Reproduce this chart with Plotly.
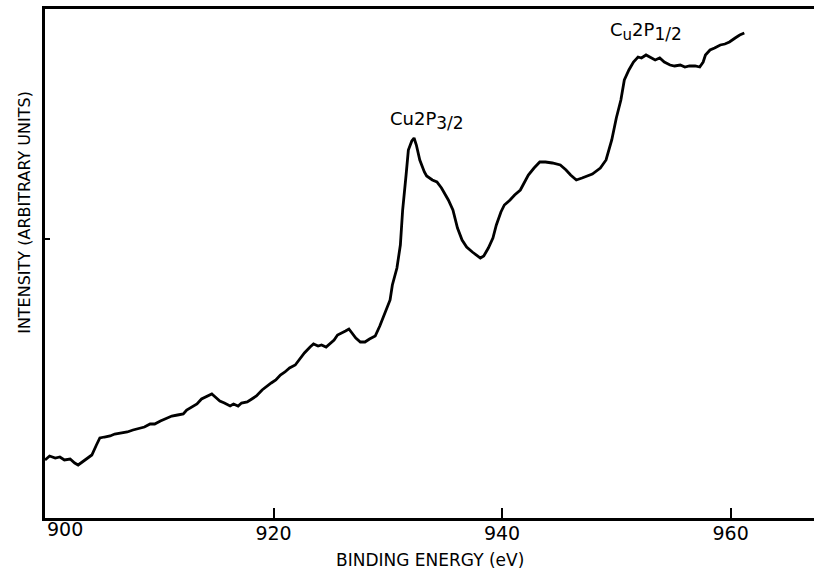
import plotly.graph_objects as go

# Binding energy (eV) and intensity (arbitrary units)
energy = [900.0, 900.4, 900.9, 901.3, 901.7, 902.2, 902.6, 902.9, 903.5, 904.1,
          904.5, 904.8, 905.2, 905.7, 906.1, 906.6, 907.2, 907.7, 908.3, 908.7,
          909.2, 909.6, 910.1, 910.7, 911.1, 911.6, 912.1, 912.4, 912.9, 913.3,
          913.7, 914.2, 914.6, 915.0, 915.3, 915.7, 916.2, 916.5, 916.9, 917.2,
          917.7, 918.1, 918.5, 919.0, 919.3, 919.8, 920.2, 920.6, 921.0, 921.4,
          921.9, 922.3, 922.7, 923.2, 923.5, 923.9, 924.2, 924.6, 924.9, 925.3,
          925.6, 926.0, 926.3, 926.6, 926.9, 927.2, 927.6, 928.0, 928.4, 928.9,
          929.3, 929.7, 930.2, 930.4, 930.8, 931.1, 931.3, 931.6, 931.8, 932.1,
          932.3, 932.5, 932.8, 933.2, 933.4, 933.9, 934.3, 934.7, 935.3, 935.7,
          936.1, 936.5, 936.9, 937.4, 937.8, 938.1, 938.4, 938.8, 939.2, 939.5,
          939.9, 940.2, 940.7, 941.1, 941.6, 941.9, 942.3, 942.8, 943.3, 943.8,
          944.4, 945.1, 945.6, 946.0, 946.5, 947.0, 947.5, 947.9, 948.6, 949.1,
          949.6, 950.0, 950.4, 950.7, 951.1, 951.5, 951.9, 952.2, 952.6, 952.9,
          953.4, 953.8, 954.2, 954.7, 955.1, 955.6, 956.0, 956.4, 956.9, 957.3,
          957.6, 957.8, 958.2, 958.6, 959.1, 959.5, 959.9, 960.4, 960.8, 961.2]

intensity = [58, 62, 60, 61, 58, 59, 55, 53, 58, 63,
             73, 80, 81, 82, 84, 85, 86, 88, 90, 91,
             94, 94, 97, 100, 102, 103, 104, 108, 111, 114,
             119, 122, 124, 120, 117, 115, 112, 114, 112, 115,
             116, 119, 122, 128, 131, 135, 138, 143, 146, 150,
             153, 159, 165, 171, 174, 172, 173, 171, 174, 178,
             183, 185, 187, 189, 184, 180, 176, 176, 179, 182,
             192, 203, 218, 233, 250, 273, 308, 343, 368, 377,
             380, 373, 358, 346, 342, 338, 336, 330, 318, 308,
             290, 278, 271, 266, 263, 260, 262, 270, 280, 293,
             306, 313, 318, 323, 328, 335, 343, 350, 356, 356,
             355, 353, 348, 343, 338, 340, 342, 344, 350, 358,
             378, 400, 418, 438, 448, 456, 461, 460, 463, 461,
             458, 460, 456, 453, 452, 453, 451, 452, 452, 451,
             456, 463, 468, 470, 473, 474, 476, 480, 483, 485]

x_ticks = [920, 940, 960]
first_tick = 900
x_range = [900, 967.3]
y_range = [0, 509]
y_ticks = [279]

fig = go.Figure()
fig.add_trace(go.Scatter(x=energy, y=intensity, mode="lines",
                         line=dict(color="black", width=2.8, shape="linear"),
                         hoverinfo="skip", showlegend=False))

fig.update_layout(
    width=814, height=574,
    margin=dict(l=45, r=0, t=9, b=56),
    paper_bgcolor="white", plot_bgcolor="white",
    font=dict(family="DejaVu Sans", color="black"),
    xaxis=dict(range=x_range, tickvals=x_ticks, ticktext=[str(v) for v in x_ticks],
               ticks="inside", ticklen=10, tickwidth=2, tickcolor="black",
               ticklabelstandoff=-4,
               showline=True, linecolor="black", linewidth=2.6, mirror=True,
               showgrid=False, zeroline=False,
               tickfont=dict(size=19, family="DejaVu Sans", color="black")),
    yaxis=dict(range=y_range, tickvals=y_ticks, ticktext=[""] * len(y_ticks),
               ticks="inside", ticklen=5, tickwidth=1.5, tickcolor="black",
               showline=True, linecolor="black", linewidth=2.6,
               showgrid=False, zeroline=False, showticklabels=False),
    annotations=[
        dict(text=str(first_tick), xref="x", yref="paper",
             x=first_tick, y=-0.0216, xanchor="left", yanchor="middle",
             showarrow=False, font=dict(size=19, family="DejaVu Sans")),
        dict(text="BINDING ENERGY (eV)", xref="paper", yref="paper",
             x=0.5, y=-0.083, xanchor="center", yanchor="middle",
             showarrow=False, font=dict(size=17, family="DejaVu Sans")),
        dict(text="INTENSITY (ARBITRARY UNITS)", xref="paper", yref="paper",
             x=-0.027, y=0.6, xanchor="center", yanchor="middle", textangle=-90,
             showarrow=False, font=dict(size=16, family="DejaVu Sans")),
        dict(text="Cu2P<sub><span style='font-size:17px'>3/2</span></sub>",
             xref="x", yref="y",
             x=933.4, y=398, xanchor="center", yanchor="middle",
             showarrow=False, font=dict(size=18, family="DejaVu Sans")),
        dict(text="C<sub><span style='font-size:15px'>u</span></sub>2P"
                  "<sub><span style='font-size:17px'>1/2</span></sub>",
             xref="x", yref="y",
             x=952.6, y=487, xanchor="center", yanchor="middle",
             showarrow=False, font=dict(size=18, family="DejaVu Sans")),
    ],
)

fig.write_html("out.html")
